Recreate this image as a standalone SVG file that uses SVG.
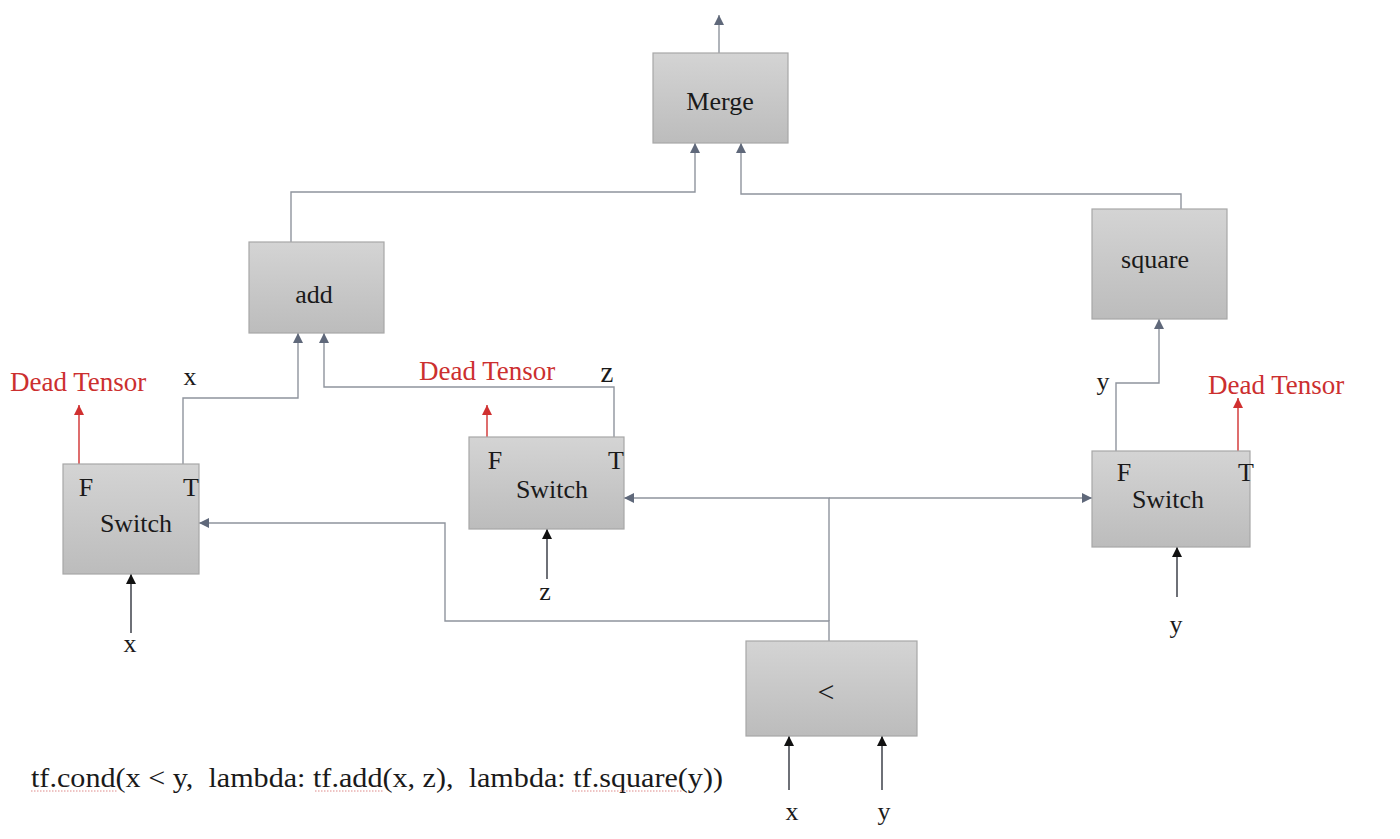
<svg xmlns="http://www.w3.org/2000/svg" width="1400" height="839" viewBox="0 0 1400 839" font-family="'Liberation Serif', 'DejaVu Serif', 'Times New Roman', serif">
<defs>
<linearGradient id="boxfill" x1="0" y1="0" x2="0" y2="1">
<stop offset="0" stop-color="#d4d4d4"/>
<stop offset="1" stop-color="#bcbcbc"/>
</linearGradient>
<marker id="ag" viewBox="0 0 10 10" refX="10" refY="5" markerWidth="10" markerHeight="10" markerUnits="userSpaceOnUse" orient="auto">
<path d="M0,0 L10,5 L0,10 z" fill="#5f687a"/>
</marker>
<marker id="ab" viewBox="0 0 10 10" refX="10" refY="5" markerWidth="10" markerHeight="10" markerUnits="userSpaceOnUse" orient="auto">
<path d="M0,0 L10,5 L0,10 z" fill="#111111"/>
</marker>
<marker id="ar" viewBox="0 0 10 10" refX="10" refY="5" markerWidth="10" markerHeight="10" markerUnits="userSpaceOnUse" orient="auto">
<path d="M0,0 L10,5 L0,10 z" fill="#d03030"/>
</marker>
</defs>
<style>
.box{fill:url(#boxfill);stroke:#a7a7a7;stroke-width:1.2}
text{font-family:'Liberation Serif','DejaVu Serif','Times New Roman',serif}
.t{font-size:26px;fill:#1a1a1a}
.c{text-anchor:middle}
.dead{font-size:27px;fill:#cc2f2f}
.g{fill:none;stroke:#8f949d;stroke-width:1.4}
.k{fill:none;stroke:#4a4d55;stroke-width:1.6}
.r{fill:none;stroke:#d03030;stroke-width:1.4}
.sq{stroke:#d88;stroke-width:1;stroke-dasharray:1.5 1.5}
</style>

<g id="connectors">
<path class="g" d="M719,53 V15" marker-end="url(#ag)"/>
<path class="g" d="M291,242 V192 H695 V143" marker-end="url(#ag)"/>
<path class="g" d="M1181,209 V194 H741 V143" marker-end="url(#ag)"/>
<path class="g" d="M183,464 V398 H298 V333" marker-end="url(#ag)"/>
<path class="g" d="M614,437 V387 H324 V333" marker-end="url(#ag)"/>
<path class="g" d="M1116,451 V383 H1159 V319" marker-end="url(#ag)"/>
<path class="g" d="M829,650 V621 H445 V523 H199" marker-end="url(#ag)"/>
<path class="g" d="M829,621 V498 H624" marker-end="url(#ag)"/>
<path class="g" d="M829,498 H1092" marker-end="url(#ag)"/>
<path class="r" d="M79,464 V405" marker-end="url(#ar)"/>
<path class="r" d="M487,437 V405" marker-end="url(#ar)"/>
<path class="r" d="M1238,451 V398" marker-end="url(#ar)"/>
<path class="k" d="M131,633 V574" marker-end="url(#ab)"/>
<path class="k" d="M547,579 V529" marker-end="url(#ab)"/>
<path class="k" d="M1177,597 V547" marker-end="url(#ab)"/>
<path class="k" d="M789,790 V736" marker-end="url(#ab)"/>
<path class="k" d="M882,790 V736" marker-end="url(#ab)"/>
</g>

<g id="merge">
<rect class="box" x="653" y="53" width="135" height="90"/>
<text class="t c" x="720" y="110">Merge</text>
</g>

<g id="add">
<rect class="box" x="249" y="242" width="135" height="91"/>
<text class="t c" x="314" y="303">add</text>
</g>

<g id="square">
<rect class="box" x="1092" y="209" width="135" height="110"/>
<text class="t c" x="1155" y="268">square</text>
</g>

<g id="switch1">
<rect class="box" x="63" y="464" width="136" height="110"/>
<text class="t c" x="86" y="496">F</text>
<text class="t c" x="191" y="496">T</text>
<text class="t c" x="136" y="532">Switch</text>
</g>

<g id="switch2">
<rect class="box" x="469" y="437" width="155" height="92"/>
<text class="t c" x="495" y="469">F</text>
<text class="t c" x="616" y="469">T</text>
<text class="t c" x="552" y="498">Switch</text>
</g>

<g id="switch3">
<rect class="box" x="1092" y="451" width="158" height="96"/>
<text class="t c" x="1124" y="481">F</text>
<text class="t c" x="1246" y="481">T</text>
<text class="t c" x="1168" y="508">Switch</text>
</g>

<g id="less">
<rect class="box" x="746" y="641" width="171" height="95"/>
<text class="t c" x="826" y="702" style="font-size:30px">&lt;</text>
</g>

<g id="labels">
<text class="dead" x="10" y="391">Dead Tensor</text>
<text class="dead" x="419" y="380">Dead Tensor</text>
<text class="dead" x="1208" y="394">Dead Tensor</text>
<text class="t c" x="190" y="385">x</text>
<text class="t c" x="607" y="382" style="font-size:29px">z</text>
<text class="t c" x="1103" y="390">y</text>
<text class="t c" x="130" y="652">x</text>
<text class="t c" x="545" y="600">z</text>
<text class="t c" x="1176" y="633">y</text>
<text class="t c" x="792" y="820">x</text>
<text class="t c" x="884" y="820">y</text>
</g>

<g id="formula">
<text class="t" x="31" y="787" style="font-size:28px;white-space:pre" textLength="692" lengthAdjust="spacingAndGlyphs">tf.cond(x &lt; y,  lambda: tf.add(x, z),  lambda: tf.square(y))</text>
<line class="sq" x1="31" y1="791" x2="117" y2="791"/>
<line class="sq" x1="315" y1="791" x2="383" y2="791"/>
<line class="sq" x1="572" y1="791" x2="682" y2="791"/>
</g>
</svg>
